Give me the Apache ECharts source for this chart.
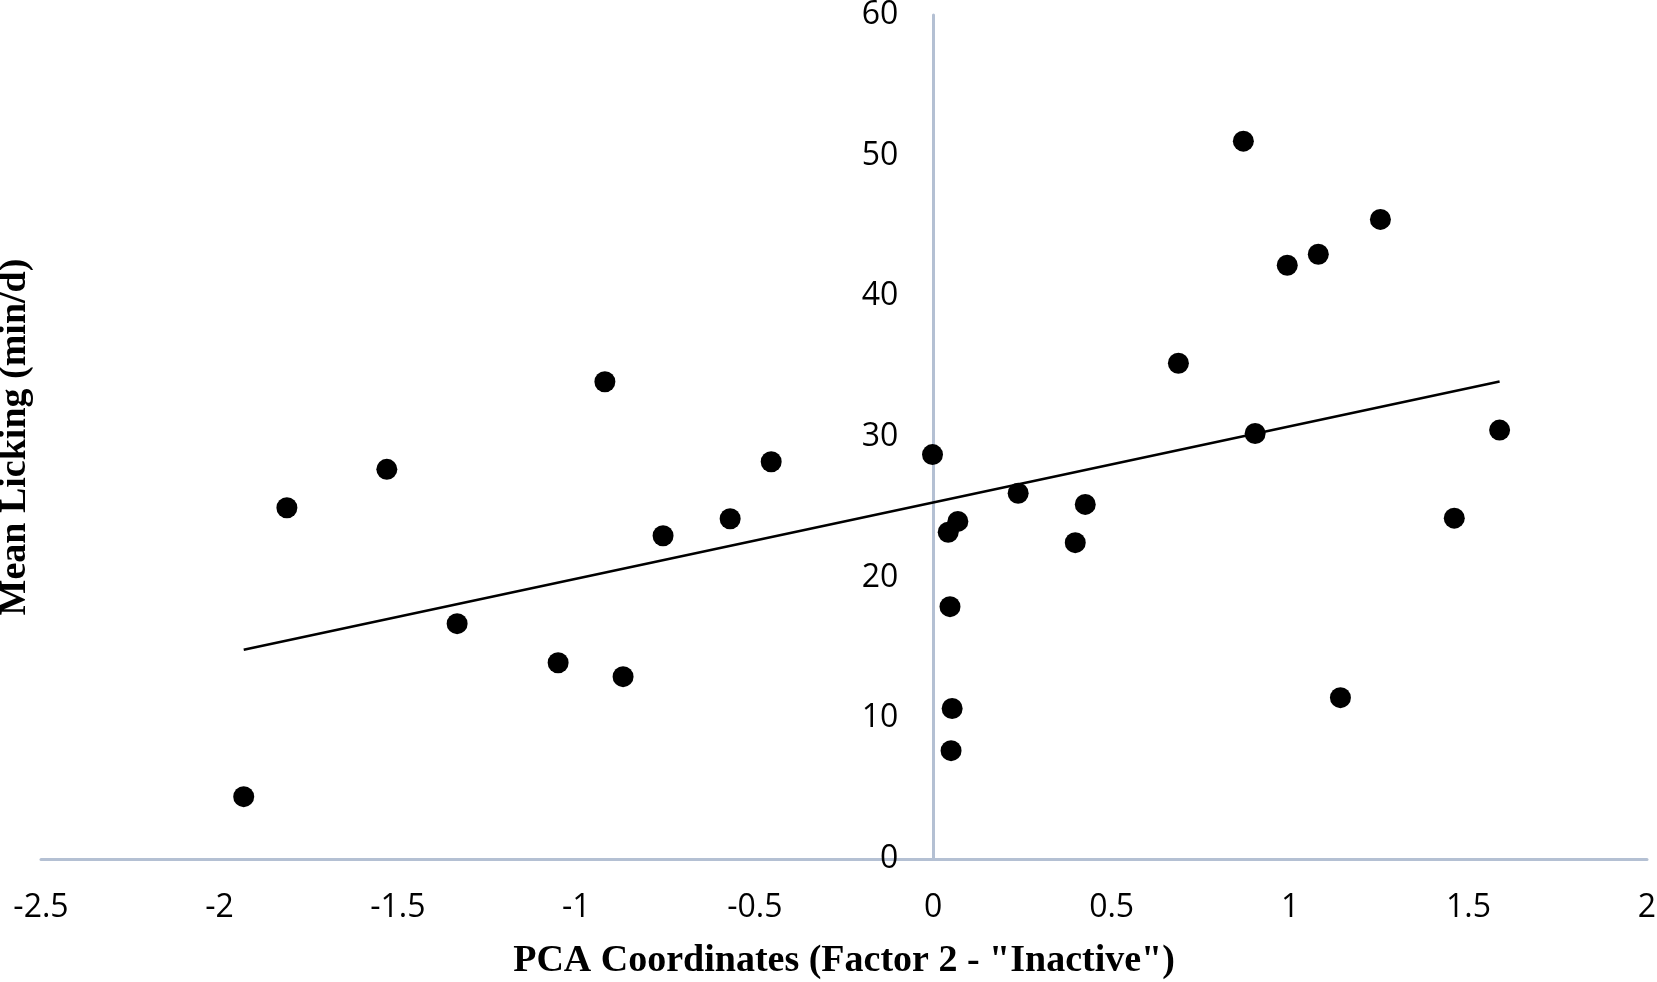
<!DOCTYPE html>
<html>
<head>
<meta charset="utf-8">
<title>Mean Licking vs PCA Factor 2</title>
<script src="https://cdn.jsdelivr.net/npm/echarts@6/dist/echarts.min.js"></script>
<style>
  html, body { margin: 0; padding: 0; background: #fff; }
  #chart { width: 1657px; height: 982px; }
</style>
</head>
<body>
<div id="chart"></div>
<script>
// PCA coordinates (factor 2 - "inactive") of each animal
const pcaX = [
  -0.920, -1.531, -1.811, -1.334, -1.051, -0.869, -1.932, -0.454, -0.569, -0.757,
  -0.002, 0.069, 0.042, 0.047, 0.053, 0.050,
  0.238, 0.426, 0.398, 0.687, 0.902, 1.141,
  0.869, 1.253, 1.079, 0.992, 1.587, 1.460
];
// mean licking time, min/d
const lickingY = [
  33.93, 27.70, 24.97, 16.73, 13.95, 12.96, 4.43, 28.24, 24.19, 22.98,
  28.75, 24.00, 23.23, 17.94, 10.70, 7.70,
  26.00, 25.21, 22.49, 35.24, 30.25, 11.47,
  51.03, 45.47, 42.99, 42.21, 30.49, 24.23
];
// linear trend line end points
const trendX = [-1.932, 1.587];
const trendY = [14.88, 33.94];

const xTicks = { min: -2.5, max: 2, interval: 0.5 };
const yTicks = { min: 0, max: 60, interval: 10 };

const xTitle = 'PCA Coordinates (Factor 2 - "Inactive")';
const yTitle = 'Mean Licking (min/d)';

const axisColor = '#b4c0d3';
const tickFont = { fontFamily: 'Open Sans', fontSize: 32, color: '#000' };
const titleFont = { fontFamily: 'Liberation Serif', fontWeight: 'bold', fontSize: 38, color: '#000' };

const points = pcaX.map((x, i) => [x, lickingY[i]]);
const trend = trendX.map((x, i) => [x, trendY[i]]);

const W = 1657;
const gridLeft = 41;
const gridRight = 10;
// the y axis sits at x = 0, move it there from the left edge of the grid
const yAxisShift = (W - gridLeft - gridRight) * (0 - xTicks.min) / (xTicks.max - xTicks.min);

const myChart = echarts.init(document.getElementById('chart'));
const option = {
  animation: false,
  backgroundColor: '#fff',
  grid: {
    left: gridLeft,
    right: gridRight,
    top: 15,
    bottom: 123,
    outerBoundsMode: 'none'
  },
  xAxis: {
    type: 'value',
    min: xTicks.min,
    max: xTicks.max,
    interval: xTicks.interval,
    name: xTitle,
    nameLocation: 'middle',
    nameGap: 83,
    nameTextStyle: titleFont,
    axisLine: { show: true, onZero: false, lineStyle: { color: axisColor, width: 3 } },
    axisTick: { show: false },
    splitLine: { show: false },
    axisLabel: Object.assign({ margin: 33 }, tickFont)
  },
  yAxis: {
    type: 'value',
    position: 'left',
    offset: -yAxisShift,
    min: yTicks.min,
    max: yTicks.max,
    interval: yTicks.interval,
    name: yTitle,
    nameLocation: 'middle',
    nameRotate: 90,
    nameGap: 899,
    nameTextStyle: titleFont,
    axisLine: { show: true, onZero: false, lineStyle: { color: axisColor, width: 3 } },
    axisTick: { show: false },
    splitLine: { show: false },
    axisLabel: Object.assign({ margin: 35 }, tickFont)
  },
  series: [
    {
      name: 'Trend',
      type: 'line',
      data: trend,
      symbol: 'none',
      lineStyle: { color: '#000', width: 2.6 },
      z: 2
    },
    {
      name: 'Mean Licking',
      type: 'scatter',
      data: points,
      symbol: 'circle',
      symbolSize: 21,
      itemStyle: { color: '#000', opacity: 1 },
      z: 3
    }
  ]
};
// draw
myChart.setOption(option);
window.onresize = function () {
  myChart.resize();
};
</script>
</body>
</html>
